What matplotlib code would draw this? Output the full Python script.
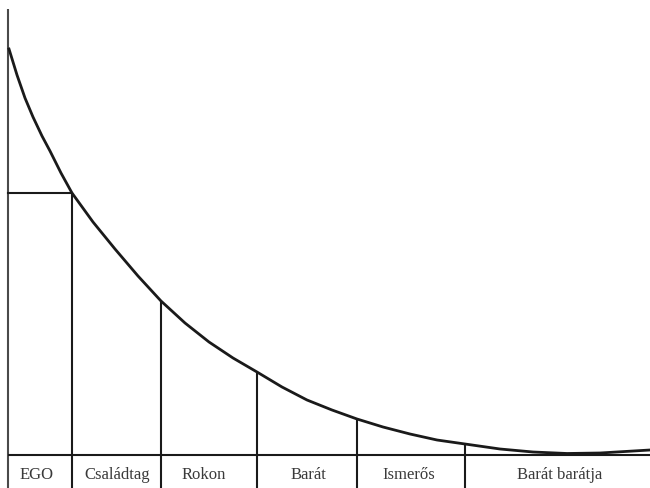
import matplotlib
matplotlib.use("Agg")
import matplotlib.pyplot as plt

# Curve (x: distance from axis, y: height above baseline)
curve_x = [1, 9, 17, 25, 34, 42, 53, 64, 85, 107, 130, 153, 177, 201, 225,
           249, 274, 299, 324, 349, 375, 402, 429, 457, 492, 525, 559, 592, 642]
curve_y = [406, 380, 357, 338, 319, 304, 282, 262, 233, 206, 179, 154, 132,
           113, 97, 83, 68, 55, 45, 36, 28, 21, 15, 11, 6, 3, 1.5, 2, 5]

# Category boundaries and curve heights at them
div_x = [64, 153, 249, 349, 457]
div_y = [262, 154, 83, 36, 11]

categories = ["EGO", "Családtag", "Rokon", "Barát", "Ismerős", "Barát barátja"]
label_x = [29, 109, 196, 300, 401, 552]

fig = plt.figure(figsize=(6.5, 4.89), dpi=100)
ax = fig.add_axes([0, 0, 1, 1])
ax.set_xlim(-8, 642)
ax.set_ylim(-33, 456)
ax.axis("off")

col = "#1a1a1a"
lw = 1.5
# vertical axis and baseline
ax.plot([0, 0], [-33, 446], color="#4a4a4a", lw=lw, solid_capstyle="butt")
ax.plot([0, 642], [0, 0], color=col, lw=lw, solid_capstyle="butt")

# curve
ax.plot(curve_x, curve_y, color=col, lw=2.0, solid_joinstyle="round")

# horizontal from axis to first division
ax.plot([0, div_x[0]], [div_y[0], div_y[0]], color=col, lw=lw)

# vertical dividers
for x, y in zip(div_x, div_y):
    ax.plot([x, x], [-33, y], color=col, lw=lw, solid_capstyle="butt")

for x, t in zip(label_x, categories):
    ax.text(x, -19, t, ha="center", va="center", fontsize=12,
            family="Liberation Serif", color="#3a3a3a")

fig.savefig("out.png", dpi=100)
